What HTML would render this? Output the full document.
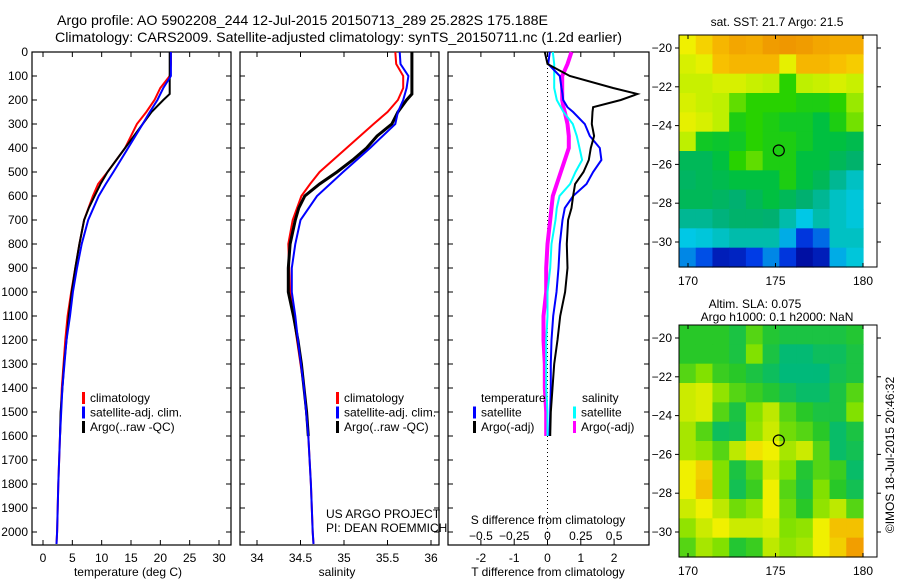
<!DOCTYPE html>
<html><head><meta charset="utf-8"><style>
html,body{margin:0;padding:0;background:#fff}
svg{display:block;font-family:"Liberation Sans",sans-serif}
</style></head><body>
<svg id="chart" width="900" height="580" viewBox="0 0 900 580" xmlns="http://www.w3.org/2000/svg">
<text x="57" y="25" font-size="14" textLength="491" lengthAdjust="spacingAndGlyphs">Argo profile: AO 5902208_244 12-Jul-2015 20150713_289 25.282S 175.188E</text>
<text x="55" y="42" font-size="14" textLength="567" lengthAdjust="spacingAndGlyphs">Climatology: CARS2009. Satellite-adjusted climatology: synTS_20150711.nc (1.2d earlier)</text>
<g id="g"></g>
</svg>
<script>
// ---------- data ----------
const depthT = [0,50,100,150,200,250,300,400,500,550,600,700,800,900,1000,1100,1200,1400,1600,1800,2000,2050];
const tempClim = [21.8,21.8,21.6,20.0,19.0,17.6,16.0,14.0,11.0,9.4,8.5,7.0,6.2,5.5,4.8,4.2,3.8,3.2,2.9,2.6,2.4,2.3];
const tempSat  = [21.8,21.8,21.8,20.5,19.5,18.2,17.0,14.5,12.0,10.7,9.5,7.7,6.6,5.8,5.1,4.6,4.0,3.3,2.9,2.6,2.4,2.3];
const depthArgo = [0,50,100,150,175,200,250,300,350,400,450,500,550,600,650,700,800,900,1000,1100,1200,1300,1400,1500,1600];
const tempArgo = [21.6,21.6,21.6,21.6,21.6,20.5,18.5,17.0,15.5,14.0,12.5,11.0,9.8,8.8,7.8,7.0,6.2,5.5,4.9,4.4,4.0,3.6,3.3,3.0,2.9];
const salClim = [35.59,35.60,35.68,35.68,35.62,35.50,35.34,35.03,34.72,34.61,34.51,34.41,34.36,34.37,34.38,34.42,34.46,34.54,34.59,34.62,34.64,34.65];
const salSat  = [35.64,35.65,35.74,35.72,35.68,35.62,35.59,35.30,34.99,34.84,34.69,34.50,34.44,34.40,34.40,34.44,34.47,34.54,34.59,34.62,34.64,34.65];
const salArgo = [35.78,35.78,35.78,35.78,35.78,35.72,35.62,35.55,35.38,35.26,35.10,34.92,34.72,34.55,34.48,34.44,34.38,34.36,34.36,34.42,34.47,34.51,34.54,34.57,34.59];
const depthD = [0,50,100,150,175,200,230,250,300,350,400,450,500,550,600,650,700,800,900,1000,1100,1200,1300,1400,1500,1600];
const dTArgo = [-0.08,0,0.67,1.97,2.7,2.2,1.37,1.35,1.33,1.4,1.3,1.24,1.08,0.83,0.77,0.72,0.62,0.58,0.6,0.53,0.38,0.3,0.2,0.15,0.1,0.08];
const dTSat  = [0.07,0.02,0.37,0.42,0.45,0.47,0.6,0.77,1.12,1.27,1.57,1.62,1.37,1.17,0.77,0.52,0.45,0.37,0.33,0.27,0.17,0.12,0.1,0.1,0.08,0.06];
const dSSat  = [0.04,0.05,0.05,0.05,0.06,0.07,0.1,0.12,0.19,0.22,0.24,0.26,0.21,0.17,0.09,0.07,0.06,0.03,0.02,0.0,0.0,-0.01,-0.01,-0.01,0.0,0.0];
const dSArgo = [0.18,0.15,0.11,0.11,0.11,0.11,0.12,0.13,0.15,0.16,0.16,0.13,0.1,0.07,0.04,0.03,0.02,0.0,-0.01,-0.01,-0.03,-0.03,-0.02,-0.02,-0.01,-0.01];
const depthTicks = [0,100,200,300,400,500,600,700,800,900,1000,1100,1200,1300,1400,1500,1600,1700,1800,1900,2000];
const tempTicks = [0,5,10,15,20,25,30];
const salTicks = [34,34.5,35,35.5,36];
const dTTicks = [-2,-1,0,1,2];
const dSTicks = [-0.5,-0.25,0,0.25,0.5];
const lonTicks = [170,175,180];
const latTicks = [-20,-22,-24,-26,-28,-30];
const argoLon = 175.188, argoLat = -25.282;
const sstGrid = [
[0.8,0.85,0.9,0.93,0.92,0.95,0.96,0.95,0.93,0.92,0.92],
[0.75,0.78,0.88,0.9,0.9,0.9,0.78,0.9,0.9,0.88,0.86],
[0.72,0.72,0.75,0.75,0.72,0.7,0.62,0.7,0.72,0.75,0.72],
[0.75,0.72,0.7,0.65,0.62,0.62,0.62,0.6,0.6,0.62,0.68],
[0.78,0.75,0.7,0.6,0.62,0.6,0.58,0.58,0.55,0.6,0.66],
[0.7,0.58,0.57,0.58,0.62,0.6,0.6,0.58,0.55,0.55,0.52],
[0.5,0.5,0.55,0.62,0.65,0.6,0.6,0.55,0.55,0.5,0.46],
[0.48,0.5,0.52,0.55,0.55,0.55,0.6,0.55,0.5,0.42,0.38],
[0.5,0.5,0.48,0.45,0.5,0.55,0.5,0.45,0.42,0.38,0.36],
[0.42,0.42,0.44,0.46,0.46,0.45,0.4,0.35,0.4,0.38,0.36],
[0.35,0.36,0.38,0.4,0.4,0.4,0.32,0.18,0.25,0.38,0.38],
[0.28,0.22,0.1,0.12,0.2,0.28,0.18,0.05,0.1,0.32,0.36]];
const slaGrid = [
[0.5,0.5,0.5,0.45,0.55,0.48,0.45,0.45,0.45,0.45,0.48],
[0.5,0.5,0.5,0.45,0.6,0.45,0.36,0.36,0.4,0.4,0.45],
[0.55,0.6,0.52,0.5,0.45,0.4,0.32,0.32,0.34,0.42,0.45],
[0.7,0.72,0.62,0.55,0.52,0.48,0.42,0.38,0.38,0.45,0.55],
[0.7,0.72,0.55,0.45,0.6,0.68,0.55,0.5,0.45,0.45,0.6],
[0.65,0.55,0.4,0.42,0.62,0.7,0.58,0.55,0.5,0.38,0.45],
[0.65,0.62,0.55,0.68,0.78,0.75,0.65,0.7,0.55,0.38,0.42],
[0.75,0.82,0.6,0.45,0.55,0.7,0.6,0.48,0.55,0.52,0.38],
[0.75,0.85,0.6,0.42,0.52,0.75,0.55,0.45,0.6,0.5,0.42],
[0.7,0.75,0.68,0.58,0.62,0.75,0.58,0.5,0.62,0.68,0.55],
[0.62,0.7,0.75,0.7,0.7,0.72,0.6,0.62,0.75,0.85,0.85],
[0.55,0.65,0.6,0.48,0.52,0.68,0.62,0.65,0.75,0.82,0.92]];

// ---------- helpers ----------
const NS="http://www.w3.org/2000/svg";
const G=document.getElementById('g');
function el(tag,attrs,parent){const e=document.createElementNS(NS,tag);for(const k in attrs)e.setAttribute(k,attrs[k]);(parent||G).appendChild(e);return e;}
function txt(x,y,s,anchor,size){const t=el('text',{x:x,y:y,'font-size':size||12,'text-anchor':anchor||'start'});t.textContent=s;return t;}
const yD = d => 52 + 0.24*d;
const xT = v => 43 + (v-0)*5.867;
const xS = v => 257 + (v-34)*87;
const xDT = v => 547.5 + v*33.3;
const xDS = v => 547.5 + v*133.2;
const lonX = l => 688 + (l-170)*17.5;
const latY0 = (l,top) => top + 13 + (-20-l)*19.4;

function line(xs,ds,xf,color,w,name){
  const p=xs.map((v,i)=>xf(v).toFixed(1)+','+yD(ds[i]).toFixed(1)).join(' ');
  const e=el('polyline',{points:p,fill:'none',stroke:color,'stroke-width':w});
  
  
}
function frame(x0,x1,name){
  const r=el('rect',{x:x0,y:52,width:x1-x0,height:493,fill:'none',stroke:'#000','stroke-width':1.2});
  
  
  depthTicks.forEach(d=>{el('line',{x1:x0,x2:x0+5,y1:yD(d),y2:yD(d),stroke:'#000'});el('line',{x1:x1-5,x2:x1,y1:yD(d),y2:yD(d),stroke:'#000'});});
}
depthTicks.forEach(d=>{const t=txt(28,yD(d)+4,String(d),'end',12);
  
  });

// ---------- panel 1: temperature ----------
frame(32,231,'temperature-panel');
tempTicks.forEach(v=>{const x=xT(v);el('line',{x1:x,x2:x,y1:545,y2:540,stroke:'#000'});el('line',{x1:x,x2:x,y1:52,y2:57,stroke:'#000'});
  const t=txt(x,562,String(v),'middle',12);
  
  });
txt(128,576,'temperature (deg C)','middle',12);
line(tempClim,depthT,xT,'#f00',2,'temperature-climatology-line');
line(tempArgo,depthArgo,xT,'#000',2,'temperature-argo-line');
line(tempSat,depthT,xT,'#00f',2,'temperature-satellite-line');

// ---------- panel 2: salinity ----------
frame(240,439,'salinity-panel');
salTicks.forEach(v=>{const x=xS(v);el('line',{x1:x,x2:x,y1:545,y2:540,stroke:'#000'});el('line',{x1:x,x2:x,y1:52,y2:57,stroke:'#000'});
  const t=txt(x,562,String(v),'middle',12);
  
  });
txt(337,576,'salinity','middle',12);
line(salClim,depthT,xS,'#f00',2,'salinity-climatology-line');
line(salArgo,depthArgo,xS,'#000',3,'salinity-argo-line');
line(salSat,depthT,xS,'#00f',2,'salinity-satellite-line');
txt(326,518,'US ARGO PROJECT','start',12);
txt(326,532,'PI: DEAN ROEMMICH','start',12);

function legendEntry(x,y,color,label,name){
  const gg=el('g',{});
  
  
  el('rect',{x:x,y:y-10,width:3,height:12,fill:color},gg);
  const t=el('text',{x:x+8,y:y,'font-size':12},gg);t.textContent=label;
}
[[82,'#f00','climatology'],[82,'#00f','satellite-adj. clim.'],[82,'#000','Argo(..raw -QC)']].forEach((a,i)=>legendEntry(a[0],402+i*14.5,a[1],a[2],'temp-legend-entry'));
[[336,'#f00','climatology'],[336,'#00f','satellite-adj. clim.'],[336,'#000','Argo(..raw -QC)']].forEach((a,i)=>legendEntry(a[0],402+i*14.5,a[1],a[2],'sal-legend-entry'));

// ---------- panel 3: differences ----------
frame(448,649,'difference-panel');
el('line',{x1:xDT(0),x2:xDT(0),y1:52,y2:545,stroke:'#000','stroke-dasharray':'1,3'});
dTTicks.forEach(v=>{const x=xDT(v);el('line',{x1:x,x2:x,y1:545,y2:540,stroke:'#000'});el('line',{x1:x,x2:x,y1:52,y2:57,stroke:'#000'});
  const t=txt(x,562,String(v),'middle',12);
  
  });
dSTicks.forEach(v=>{const t=txt(xDS(v),540,(v<0?'\u2212':'')+String(Math.abs(v)),'middle',12);
  
  });
txt(548,524,'S difference from climatology','middle',12);
txt(548,576,'T difference from climatology','middle',12);
line(dSArgo,depthD,xDS,'#f0f',4,'sdiff-argo-line');
line(dSSat,depthD,xDS,'#0ff',2,'sdiff-satellite-line');
line(dTSat,depthD,xDT,'#00f',2,'tdiff-satellite-line');
line(dTArgo,depthD,xDT,'#000',2,'tdiff-argo-line');
txt(481,402,'temperature','start',12);
txt(582,402,'salinity','start',12);
legendEntry(473,416.5,'#00f','satellite','tdiff-legend-satellite');
legendEntry(473,431,'#000','Argo(-adj)','tdiff-legend-argo');
legendEntry(573,416.5,'#0ff','satellite','sdiff-legend-satellite');
legendEntry(573,431,'#f0f','Argo(-adj)','sdiff-legend-argo');

// ---------- maps ----------
function ramp(stops,v){
  for(let i=1;i<stops.length;i++){if(v<=stops[i][0]){const a=stops[i-1],b=stops[i],f=(v-a[0])/(b[0]-a[0]);return 'rgb('+a[1].map((c,k)=>Math.round(c+(b[1][k]-c)*f)).join(',')+')';}}
  return 'rgb('+stops[stops.length-1][1].join(',')+')';
}
const jetStops=[[0,[0,0,140]],[0.2,[0,60,230]],[0.35,[0,200,230]],[0.45,[0,176,112]],[0.55,[0,192,64]],[0.62,[40,210,0]],[0.7,[190,240,0]],[0.8,[240,240,0]],[0.88,[248,192,0]],[1,[235,130,0]]];
const slaStops=[[0,[0,180,140]],[0.35,[0,185,120]],[0.5,[40,200,40]],[0.6,[130,225,0]],[0.75,[240,240,0]],[0.9,[245,170,0]],[1,[230,110,0]]];
function map(top,grid,stops,name,cell){
  const gg=el('g',{});
  
  
  const rows=grid.length, cols=grid[0].length, w=(863-679)/cols, h=232/rows;
  grid.forEach((row,r)=>row.forEach((v,c)=>{
    const rc=el('rect',{x:(679+c*w).toFixed(2),y:(top+r*h).toFixed(2),width:(w+0.6).toFixed(2),height:(h+0.6).toFixed(2),fill:ramp(stops,v)},gg);
    
    
  }));
  el('rect',{x:679,y:top,width:198,height:232,fill:'none',stroke:'#000','stroke-width':1},gg);
  lonTicks.forEach(l=>{const x=lonX(l);el('line',{x1:x,x2:x,y1:top,y2:top+4,stroke:'#000'},gg);el('line',{x1:x,x2:x,y1:top+232,y2:top+228,stroke:'#000'},gg);
    const t=txt(x,top+250,String(l),'middle',12);
    
    });
  latTicks.forEach(l=>{const y=latY0(l,top);el('line',{x1:675,x2:679,y1:y,y2:y,stroke:'#000'},gg);el('line',{x1:877,x2:881,y1:y,y2:y,stroke:'#000'},gg);
    const t=txt(672,y+4,'\u2212'+String(-l),'end',12);
    
    });
  const c=el('circle',{cx:lonX(argoLon),cy:latY0(argoLat,top),r:5.5,fill:'none',stroke:'#000','stroke-width':1.2},gg);
  
  
}
map(35,sstGrid,jetStops,'sst-map','sst-cell');
map(325,slaGrid,slaStops,'sla-map','sla-cell');
txt(777,26,'sat. SST: 21.7 Argo: 21.5','middle',12);
txt(755,308,'Altim. SLA: 0.075','middle',12);
txt(777,321,'Argo h1000: 0.1 h2000: NaN','middle',12);
const cr=txt(0,0,'\u00a9IMOS 18-Jul-2015 20:46:32','middle',12);
cr.setAttribute('transform','translate(894,455) rotate(-90)');


</script>
</body></html>
